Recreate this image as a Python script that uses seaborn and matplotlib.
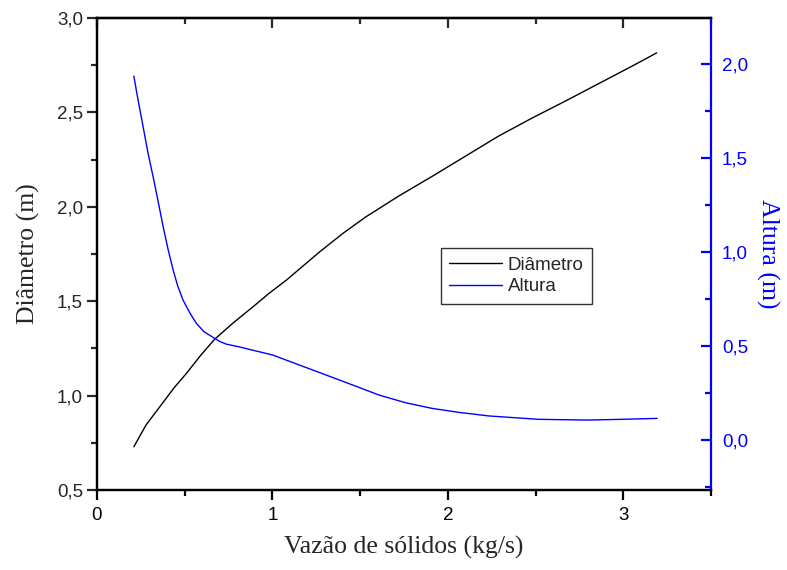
import matplotlib
matplotlib.use("Agg")
import matplotlib.pyplot as plt
from matplotlib.ticker import MultipleLocator, FuncFormatter
import seaborn as sns
import pandas as pd

# Data
diam_x = [0.21, 0.28, 0.38, 0.44, 0.51, 0.59, 0.67, 0.78, 0.89, 0.98, 1.08, 1.27, 1.40,
          1.53, 1.72, 1.91, 2.10, 2.29, 2.48, 2.67, 2.90, 3.05, 3.19]
diam_y = [0.729, 0.845, 0.968, 1.042, 1.118, 1.212, 1.298, 1.388, 1.471, 1.541, 1.612, 1.762, 1.858,
          1.945, 2.057, 2.161, 2.268, 2.375, 2.470, 2.560, 2.672, 2.745, 2.815]

alt_x = [0.210, 0.230, 0.263, 0.290, 0.320, 0.350, 0.377, 0.405, 0.434, 0.460, 0.490, 0.530,
         0.566, 0.610, 0.670, 0.700, 0.737, 0.8125, 0.869,
         1.002, 1.153, 1.305, 1.456, 1.608, 1.760, 1.911, 2.063, 2.233, 2.517, 2.80, 2.99, 3.193]
alt_y = [1.936, 1.830, 1.666, 1.530, 1.400, 1.262, 1.135, 1.015, 0.904, 0.820, 0.745, 0.675,
         0.621, 0.576, 0.541, 0.524, 0.510, 0.495, 0.482,
         0.452, 0.399, 0.346, 0.293, 0.239, 0.198, 0.168, 0.147, 0.128, 0.110, 0.106, 0.110, 0.115]

x_label = "Vazão de sólidos (kg/s)"
y_label = "Diâmetro (m)"
y2_label = "Altura (m)"
names = ["Diâmetro", "Altura"]

sns.set_style("white")
plt.rcParams["font.family"] = ["Liberation Sans", "DejaVu Sans"]

fig = plt.figure(figsize=(7.87, 5.70), dpi=100)
ax = fig.add_axes([97/787, 1-490/570, (711-97)/787, (490-18)/570])
ax2 = ax.twinx()

df1 = pd.DataFrame({"x": diam_x, "y": diam_y})
df2 = pd.DataFrame({"x": alt_x, "y": alt_y})
sns.lineplot(data=df1, x="x", y="y", ax=ax, color="black", lw=1.0, sort=False,
             estimator=None, label=names[0], legend=False)
sns.lineplot(data=df2, x="x", y="y", ax=ax2, color="#0000ff", lw=1.0, sort=False,
             estimator=None, label=names[1], legend=False)

ax.set_xlim(0, 3.5)
ax.set_ylim(0.5, 3.0)
ax2.set_ylim(-0.266, 2.245)

comma = FuncFormatter(lambda v, p: (f"{v:.1f}").replace(".", ","))
intfmt = FuncFormatter(lambda v, p: f"{v:g}")
ax.xaxis.set_major_locator(MultipleLocator(1))
ax.xaxis.set_minor_locator(MultipleLocator(0.5))
ax.xaxis.set_major_formatter(intfmt)
ax.yaxis.set_major_locator(MultipleLocator(0.5))
ax.yaxis.set_minor_locator(MultipleLocator(0.25))
ax.yaxis.set_major_formatter(comma)
ax2.yaxis.set_major_locator(MultipleLocator(0.5))
ax2.yaxis.set_minor_locator(MultipleLocator(0.25))
ax2.yaxis.set_major_formatter(comma)

for a in (ax, ax2):
    for s in a.spines.values():
        s.set_linewidth(1.6)
        s.set_color("black")
ax2.spines["right"].set_color("#0000ff")
ax.spines["right"].set_visible(False)

ax.tick_params(axis="x", which="both", bottom=True, top=False, direction="out",
               labelsize=13.5, colors="black", width=1.6, pad=5)
ax.tick_params(axis="x", which="major", length=7)
ax.tick_params(axis="x", which="minor", length=4)
ax.tick_params(axis="y", which="both", left=True, right=False, direction="out",
               labelsize=13.5, width=1.6, pad=3)
ax.tick_params(axis="y", which="major", length=7)
ax.tick_params(axis="y", which="minor", length=4)
ax2.tick_params(axis="y", which="both", right=True, left=False, direction="in",
                labelsize=13.5, width=1.6, colors="#0000ff", pad=8)
ax2.tick_params(axis="y", which="major", length=7)
ax2.tick_params(axis="y", which="minor", length=4)

# top ticks pointing inward via secondary axis
sec = ax.secondary_xaxis("top")
sec.xaxis.set_major_locator(MultipleLocator(1))
sec.xaxis.set_minor_locator(MultipleLocator(0.5))
sec.tick_params(axis="x", which="both", direction="in", labeltop=False, width=1.6)
sec.tick_params(axis="x", which="major", length=7)
sec.tick_params(axis="x", which="minor", length=4)
sec.spines["top"].set_linewidth(1.6)

serif = ["Liberation Serif", "DejaVu Serif"]
ax.set_xlabel(x_label, fontsize=18.5, family=serif, labelpad=9)
ax.set_ylabel(y_label, fontsize=18.5, family=serif, labelpad=12)
ax2.set_ylabel(y2_label, fontsize=18.5, family=serif, color="#0000ff", rotation=270, labelpad=22)

h1, l1 = ax.get_legend_handles_labels()
h2, l2 = ax2.get_legend_handles_labels()
leg = ax2.legend(h1 + h2, l1 + l2, loc="upper left",
                 bbox_to_anchor=(441/787, 1-248/570), bbox_transform=fig.transFigure,
                 fontsize=13.5, frameon=True, fancybox=False, shadow=False,
                 handlelength=2.8, handletextpad=0.3, borderpad=0.45, labelspacing=0.25,
                 borderaxespad=0)
leg.get_frame().set_edgecolor("black")
leg.get_frame().set_linewidth(1.0)

fig.savefig("out.png", dpi=100)
